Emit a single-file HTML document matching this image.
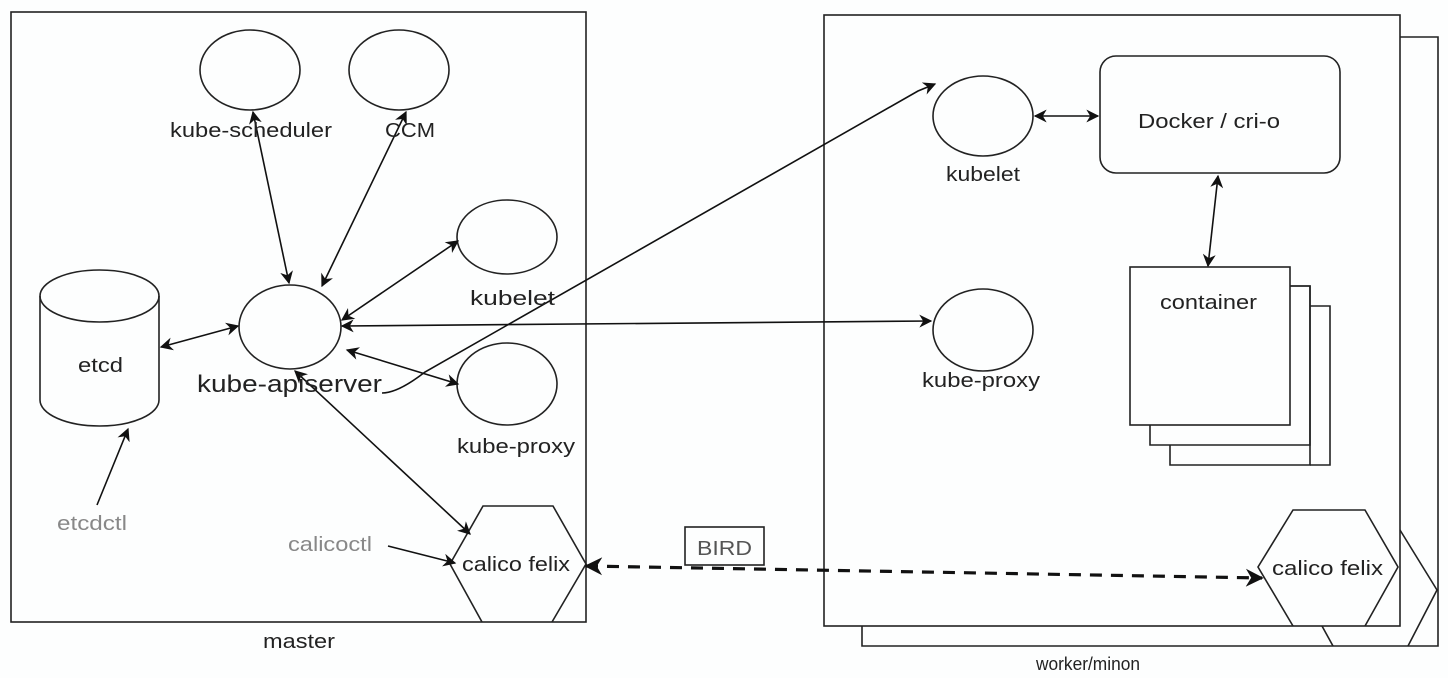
<!DOCTYPE html>
<html><head><meta charset="utf-8"><style>
html,body{margin:0;padding:0;background:#fdfefe;}
svg{display:block;}
text{font-family:"Liberation Sans",sans-serif;fill:#222;}
</style></head><body>
<svg width="1448" height="678" viewBox="0 0 1448 678" xmlns="http://www.w3.org/2000/svg">
<defs>
<marker id="a" viewBox="0 0 10 10" refX="9" refY="5" markerWidth="13" markerHeight="13" markerUnits="userSpaceOnUse" orient="auto-start-reverse">
<path d="M0,0 L10,5 L0,10 L3,5 z" fill="#111"/></marker>
<marker id="b" viewBox="0 0 10 10" refX="9" refY="5" markerWidth="18" markerHeight="18" markerUnits="userSpaceOnUse" orient="auto-start-reverse">
<path d="M0,0 L10,5 L0,10 L3,5 z" fill="#111"/></marker>
</defs>
<g fill="none" stroke="#222" stroke-width="1.6">
<rect x="11" y="12" width="575" height="610"/>
<path d="M1400,37 H1438 V646 H862 V626"/>
<rect x="824" y="15" width="576" height="611" fill="#fdfefe"/>
<ellipse cx="250" cy="70" rx="50" ry="40"/>
<ellipse cx="399" cy="70" rx="50" ry="40"/>
<ellipse cx="507" cy="237" rx="50" ry="37"/>
<ellipse cx="290" cy="327" rx="51" ry="42"/>
<ellipse cx="507" cy="384" rx="50" ry="41"/>
<ellipse cx="983" cy="116" rx="50" ry="40"/>
<ellipse cx="983" cy="330" rx="50" ry="41"/>
<path d="M40,296 V400 A59.5,26 0 0 0 159,400 V296"/>
<ellipse cx="99.5" cy="296" rx="59.5" ry="26"/>
<rect x="1100" y="56" width="240" height="117" rx="16"/>
<path d="M1310,465 H1330 V306 H1310"/>
<path d="M1170,445 V465 H1310 V286 H1290"/>
<path d="M1150,425 V445 H1310 V286 H1290"/>
<rect x="1130" y="267" width="160" height="158" fill="#fdfefe"/>
<path d="M482,622 L450,564 L483,506 H553 L586,564 L552,622"/>
<path d="M1400,530 L1437,590 L1408,646 M1322,626 L1333,646"/>
<path d="M1293,626 L1258,567 L1293,510 H1365 L1398,567 L1365,626"/>
<rect x="685" y="527" width="79" height="38"/>
</g>
<g fill="none" stroke="#111" stroke-width="1.6">
<line x1="253" y1="112" x2="289" y2="283" marker-start="url(#a)" marker-end="url(#a)"/>
<line x1="406" y1="112" x2="322" y2="286" marker-start="url(#a)" marker-end="url(#a)"/>
<line x1="458" y1="241" x2="342" y2="320" marker-start="url(#a)" marker-end="url(#a)"/>
<line x1="342" y1="326" x2="931" y2="321" marker-start="url(#a)" marker-end="url(#a)"/>
<line x1="347" y1="350" x2="458" y2="384" marker-start="url(#a)" marker-end="url(#a)"/>
<line x1="295" y1="371" x2="470" y2="534" marker-start="url(#a)" marker-end="url(#a)"/>
<line x1="161" y1="347" x2="238" y2="326" marker-start="url(#a)" marker-end="url(#a)"/>
<path d="M382,393 Q398,393 425,372 L918,91 L935,84" marker-end="url(#a)"/>
<line x1="1035" y1="116" x2="1098" y2="116" marker-start="url(#a)" marker-end="url(#a)"/>
<line x1="1218" y1="176" x2="1208" y2="266" marker-start="url(#a)" marker-end="url(#a)"/>
<line x1="97" y1="505" x2="128" y2="429" marker-end="url(#a)"/>
<line x1="388" y1="546" x2="455" y2="563" marker-end="url(#a)"/>
<line x1="586" y1="566" x2="1262" y2="578" stroke-width="3.2" stroke-dasharray="12,9" marker-start="url(#b)" marker-end="url(#b)"/>
</g>
<g font-size="20">
<text x="170" y="137" textLength="162" lengthAdjust="spacingAndGlyphs">kube-scheduler</text>
<text x="385" y="137" textLength="50" lengthAdjust="spacingAndGlyphs">CCM</text>
<text x="470" y="305" textLength="85" lengthAdjust="spacingAndGlyphs">kubelet</text>
<text x="197" y="392" font-size="24" textLength="185" lengthAdjust="spacingAndGlyphs">kube-apiserver</text>
<text x="457" y="453" textLength="118" lengthAdjust="spacingAndGlyphs">kube-proxy</text>
<text x="78" y="372" textLength="45" lengthAdjust="spacingAndGlyphs">etcd</text>
<text x="57" y="530" textLength="70" lengthAdjust="spacingAndGlyphs" style="fill:#888">etcdctl</text>
<text x="288" y="551" textLength="84" lengthAdjust="spacingAndGlyphs" style="fill:#888">calicoctl</text>
<text x="462" y="571" textLength="108" lengthAdjust="spacingAndGlyphs">calico felix</text>
<text x="1272" y="575" textLength="111" lengthAdjust="spacingAndGlyphs">calico felix</text>
<text x="697" y="555" textLength="55" lengthAdjust="spacingAndGlyphs" style="fill:#555">BIRD</text>
<text x="946" y="181" textLength="74" lengthAdjust="spacingAndGlyphs">kubelet</text>
<text x="922" y="387" textLength="118" lengthAdjust="spacingAndGlyphs">kube-proxy</text>
<text x="1138" y="128" textLength="142" lengthAdjust="spacingAndGlyphs">Docker / cri-o</text>
<text x="1160" y="309" textLength="97" lengthAdjust="spacingAndGlyphs">container</text>
<text x="263" y="648" textLength="72" lengthAdjust="spacingAndGlyphs">master</text>
<text x="1036" y="670" font-size="18" textLength="104" lengthAdjust="spacingAndGlyphs">worker/minon</text>
</g>
</svg>
</body></html>
